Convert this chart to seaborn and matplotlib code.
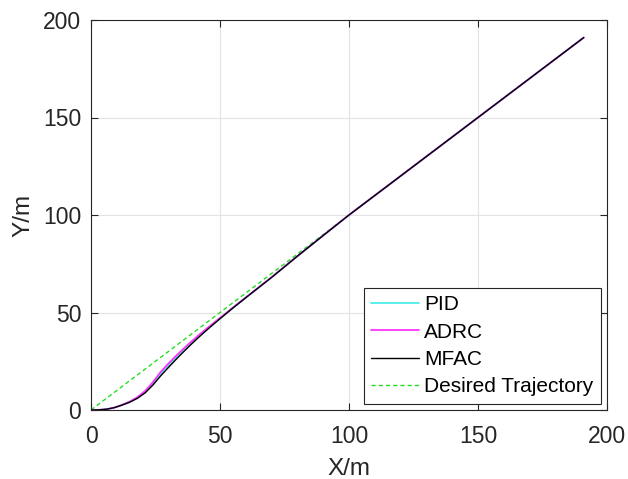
import numpy as np
import pandas as pd
import matplotlib
matplotlib.use("Agg")
import matplotlib.pyplot as plt
import seaborn as sns

x_pts = [0, 3, 6, 9, 12, 15, 18, 21, 24, 27, 30, 33, 36, 39, 42, 46, 50, 55, 60, 70, 80, 90, 100, 191]
y_mfac = [0, 0.05, 0.4, 1.2, 2.5, 4.0, 6.0, 8.8, 12.8, 17.5, 21.8, 26.0, 30.0, 33.9, 37.6, 42.3, 46.8, 52.3, 57.6, 68.0, 78.9, 89.5, 100, 191]
y_adrc = [0, 0.05, 0.4, 1.2, 2.6, 4.3, 6.6, 9.8, 14.3, 19.5, 23.8, 27.8, 31.6, 35.2, 38.7, 43.0, 47.2, 52.5, 57.7, 68.1, 78.9, 89.5, 100, 191]
y_pid = [0, 0.05, 0.4, 1.2, 2.55, 4.15, 6.3, 9.3, 13.5, 18.5, 22.8, 26.9, 30.8, 34.5, 38.1, 42.7, 47.0, 52.4, 57.6, 68.0, 78.9, 89.5, 100, 191]
x_des = [0, 191]
y_des = [0, 191]

sns.set_theme(style="white")
plt.rcParams['font.family'] = ['Liberation Sans', 'DejaVu Sans']

dark = "#262626"
fig = plt.figure(figsize=(6.28, 4.79), dpi=100)
ax = fig.add_axes([91 / 628, 69 / 479, 516 / 628, 390 / 479])

df = pd.DataFrame({"X": x_pts * 3,
                   "Y": y_pid + y_adrc + y_mfac,
                   "method": ["PID"] * len(x_pts) + ["ADRC"] * len(x_pts) + ["MFAC"] * len(x_pts)})
palette = {"PID": "#4DEEEA", "ADRC": "#FF33FF", "MFAC": "black"}
widths = {"PID": 1.3, "ADRC": 1.3, "MFAC": 1.0}

sns.lineplot(x=x_des, y=y_des, ax=ax, color="#22DD22", lw=1.0, ls=(0, (3, 2.2)),
             label="Desired Trajectory", zorder=2)
for m in ["PID", "ADRC", "MFAC"]:
    sub = df[df.method == m]
    sns.lineplot(x=sub.X, y=sub.Y, ax=ax, color=palette[m], lw=widths[m], label=m,
                 sort=False, zorder=3)

ax.set_xlim(0, 200)
ax.set_ylim(0, 200)
ax.set_xticks([0, 50, 100, 150, 200])
ax.set_yticks([0, 50, 100, 150, 200])
ax.grid(True, color="#E3E3E3", lw=0.8)
ax.set_axisbelow(True)
for s in ax.spines.values():
    s.set_color(dark)
    s.set_linewidth(0.8)
ax.tick_params(direction="in", length=5, width=0.8, color=dark, labelcolor=dark, labelsize=16.5,
               top=True, right=True, bottom=True, left=True)
ax.tick_params(axis="x", pad=11)
ax.tick_params(axis="y", pad=7)
ax.set_xlabel("X/m", fontsize=17.5, labelpad=7, color=dark)
ax.set_ylabel("Y/m", fontsize=17.5, labelpad=6, color=dark)

h, l = ax.get_legend_handles_labels()
order = [l.index(n) for n in ["PID", "ADRC", "MFAC", "Desired Trajectory"]]
leg = ax.legend([h[i] for i in order], [l[i] for i in order],
                loc="lower right", fontsize=15.0, frameon=True, fancybox=False,
                edgecolor=dark, framealpha=1, borderpad=0.35, labelspacing=0.4,
                handlelength=2.3, handletextpad=0.25, borderaxespad=0.3)
leg.get_frame().set_linewidth(0.8)
for t in leg.get_texts():
    t.set_color("black")

fig.savefig("out.png", dpi=100)
